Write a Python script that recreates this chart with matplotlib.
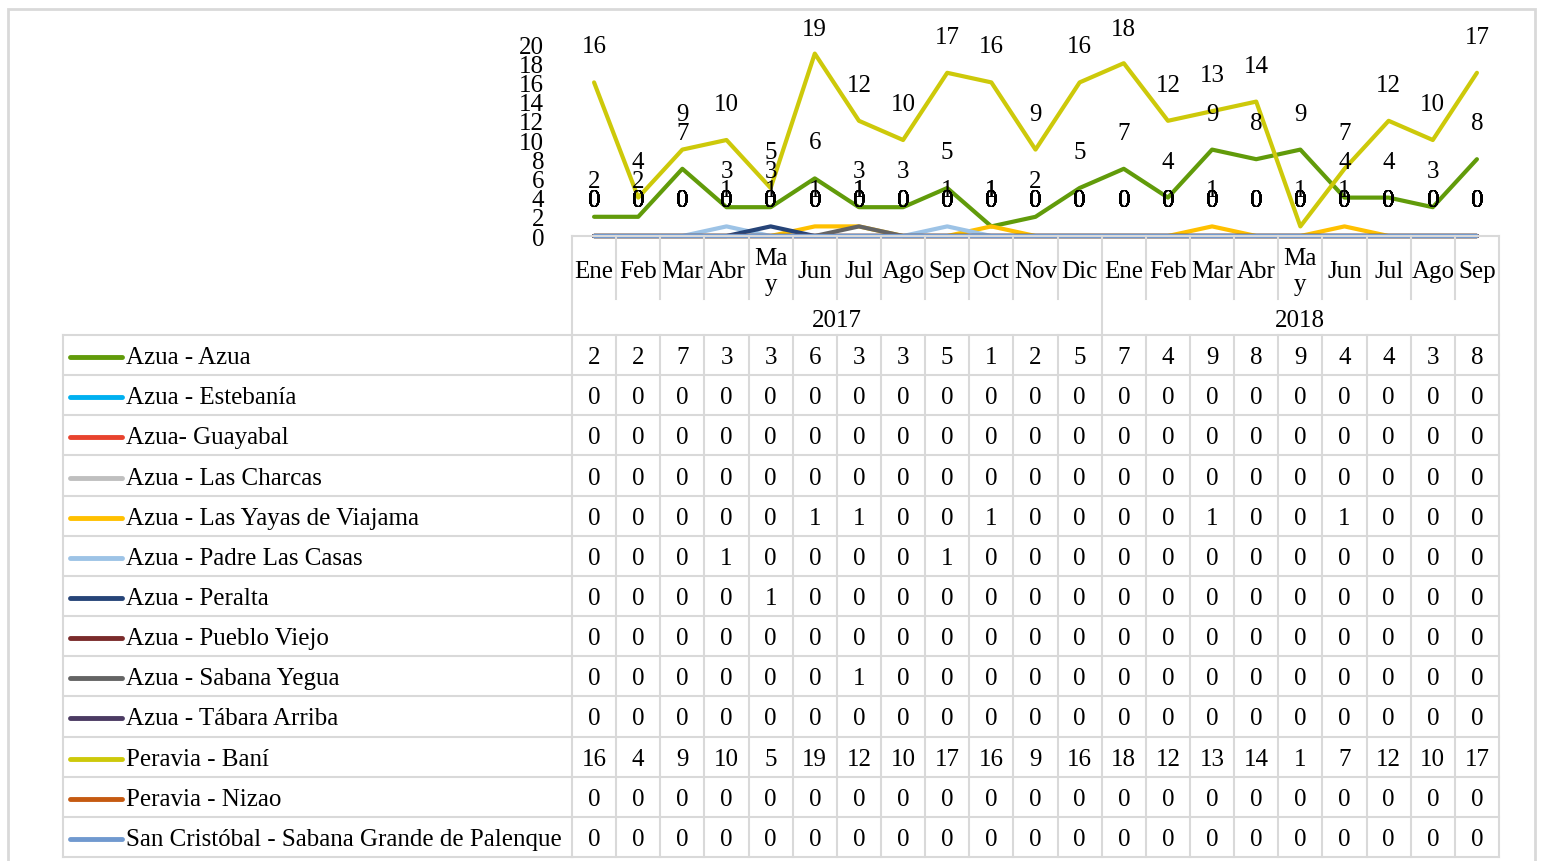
import numpy as np
import matplotlib.pyplot as plt
import matplotlib.transforms as mtransforms
from matplotlib.lines import Line2D

plt.rcParams['font.family'] = ['Liberation Serif', 'DejaVu Serif']

months = ["Ene", "Feb", "Mar", "Abr", "May", "Jun", "Jul", "Ago", "Sep", "Oct", "Nov", "Dic",
          "Ene", "Feb", "Mar", "Abr", "May", "Jun", "Jul", "Ago", "Sep"]
years = ["2017", "2018"]
year_len = [12, 9]

names = ["Azua - Azua", "Azua - Estebanía", "Azua- Guayabal", "Azua - Las Charcas",
         "Azua - Las Yayas de Viajama", "Azua - Padre Las Casas", "Azua - Peralta",
         "Azua - Pueblo Viejo", "Azua - Sabana Yegua", "Azua - Tábara Arriba",
         "Peravia - Baní", "Peravia - Nizao", "San Cristóbal - Sabana Grande de Palenque"]

azua = [2, 2, 7, 3, 3, 6, 3, 3, 5, 1, 2, 5, 7, 4, 9, 8, 9, 4, 4, 3, 8]
estebania = [0] * 21
guayabal = [0] * 21
charcas = [0] * 21
yayas = [0, 0, 0, 0, 0, 1, 1, 0, 0, 1, 0, 0, 0, 0, 1, 0, 0, 1, 0, 0, 0]
padre = [0, 0, 0, 1, 0, 0, 0, 0, 1, 0, 0, 0, 0, 0, 0, 0, 0, 0, 0, 0, 0]
peralta = [0, 0, 0, 0, 1, 0, 0, 0, 0, 0, 0, 0, 0, 0, 0, 0, 0, 0, 0, 0, 0]
pueblo = [0] * 21
sabana = [0, 0, 0, 0, 0, 0, 1, 0, 0, 0, 0, 0, 0, 0, 0, 0, 0, 0, 0, 0, 0]
tabara = [0] * 21
bani = [16, 4, 9, 10, 5, 19, 12, 10, 17, 16, 9, 16, 18, 12, 13, 14, 1, 7, 12, 10, 17]
nizao = [0] * 21
palenque = [0] * 21

series = [azua, estebania, guayabal, charcas, yayas, padre, peralta, pueblo,
          sabana, tabara, bani, nizao, palenque]
colors = ['#619b0a', '#00b0f0', '#e8432e', '#bfbfbf', '#ffc000', '#9dc3e6', '#264478',
          '#7a2b2b', '#646464', '#4b3b63', '#cdc90a', '#c55a11', '#7099cf']

W, H = 1543, 862
fs = 18
grid = '#d9d9d9'

fig = plt.figure(figsize=(W / 100, H / 100), dpi=100)

def fx(px):
    return px / W

def fy(py):
    return 1 - py / H

# outer chart border
fig.add_artist(plt.Rectangle((fx(8), fy(875)), fx(1535 - 8), (875 - 10) / H,
                             fill=False, ec=grid, lw=2, transform=fig.transFigure))

ax_top, ax_bot = 45, 237
ax = fig.add_axes([fx(572), fy(ax_bot), fx(1499 - 572), (ax_bot - ax_top) / H])
x = np.arange(len(months))
for s, c in zip(series, colors):
    ax.plot(x, s, color=c, lw=3, solid_capstyle='round', clip_on=False)

ymax = 20
label_min_py = 30  # labels are kept inside the chart area, like Excel does
for s in series:
    for i, v in enumerate(s):
        py = ax_bot - v * (ax_bot - ax_top) / ymax
        off_px = min(36, py - label_min_py)
        ax.annotate(str(v), (i, v), xytext=(0, off_px * 0.72), textcoords='offset points',
                    ha='center', va='center', fontsize=fs)
ax.set_xlim(-0.5, len(months) - 0.5)
ax.set_ylim(0, ymax)
ax.set_yticks(range(0, ymax + 1, 2))
ax.tick_params(axis='y', length=0, pad=20, labelsize=fs)
ax.set_xticks([])
for sp in ax.spines.values():
    sp.set_visible(False)

# data table below the chart
tr = mtransforms.blended_transform_factory(ax.transData, fig.transFigure)
row_top = 336
row_h = (858 - 336) / len(names)

def hline(x0, x1, py, t=tr):
    fig.add_artist(Line2D([x0, x1], [fy(py), fy(py)], color=grid, lw=1.5, transform=t))

def vline(xv, py0, py1, t=tr):
    fig.add_artist(Line2D([xv, xv], [fy(py0), fy(py1)], color=grid, lw=1.5, transform=t))

hline(-0.5, 20.5, 237)
for r in range(len(names) + 1):
    py = row_top + r * row_h
    hline(-0.5, 20.5, py)
    fig.add_artist(Line2D([fx(63), fx(572)], [fy(py), fy(py)], color=grid, lw=1.5,
                          transform=fig.transFigure))
fig.add_artist(Line2D([fx(63), fx(63)], [fy(336), fy(858)], color=grid, lw=1.5,
                      transform=fig.transFigure))
for k in range(len(months) + 1):
    xv = k - 0.5
    if k in (0, 12, len(months)):
        vline(xv, 237, 858)
    else:
        vline(xv, 237, 300)
        vline(xv, 336, 858)

for i, m in enumerate(months):
    lab = "Ma\ny" if m == "May" else m
    fig.text(i, fy(272), lab, transform=tr, ha='center', va='center', fontsize=fs,
             linespacing=1.2)
start = 0
for yname, n in zip(years, year_len):
    fig.text(start + (n - 1) / 2, fy(321), yname, transform=tr, ha='center',
             va='center', fontsize=fs)
    start += n

for r, (nm, s, c) in enumerate(zip(names, series, colors)):
    cy = fy(row_top + (r + 0.5) * row_h + 2)
    fig.add_artist(Line2D([fx(70), fx(122)], [cy, cy], color=c, lw=3.5,
                          solid_capstyle='round', transform=fig.transFigure))
    fig.text(fx(126), cy, nm, ha='left', va='center', fontsize=fs)
    for i, v in enumerate(s):
        fig.text(i, cy, str(v), transform=tr, ha='center', va='center', fontsize=fs)

fig.savefig('out.png', dpi=100)
